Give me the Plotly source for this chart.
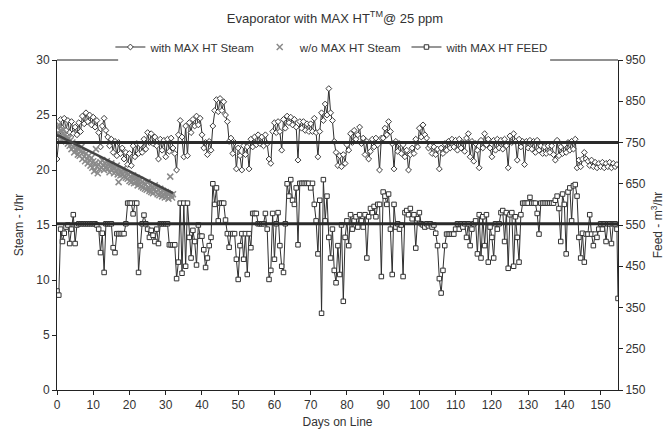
import numpy as np
import plotly.graph_objects as go

# ---------------- data ----------------
steam_days = list(np.arange(0, 155, 0.5))
steam_with = [
    21.0, 23.2, 24.6, 23.8, 24.7, 23.6, 24.5, 23.4, 24.4, 23.3, 23.9, 23.2, 24.3, 23.5, 24.9, 24.2, 25.2, 24.4, 25.0, 24.1,
    24.8, 23.9, 24.5, 23.4, 22.1, 24.0, 24.7, 23.6, 23.0, 22.2, 22.8, 21.6, 22.6, 21.3, 22.5, 21.5, 22.0, 21.0, 21.6, 20.5,
    21.5, 20.4, 22.2, 21.2, 22.4, 21.5, 22.3, 21.6, 22.8, 21.9, 23.4, 22.5, 23.3, 22.4, 23.0, 22.2, 21.0, 22.8, 21.8, 22.7,
    21.2, 22.8, 21.7, 22.9, 22.0, 21.5, 20.0, 23.2, 24.5, 23.0, 21.2, 24.0, 21.3, 24.3, 23.4, 24.6, 24.0, 24.9, 24.1, 24.7,
    23.2, 22.0, 22.5, 21.4, 22.6, 21.8, 24.0, 25.4, 26.4, 25.3, 26.5, 25.4, 26.2, 25.0, 24.4, 22.6, 22.9, 21.5, 22.5, 20.1,
    22.0, 21.3, 20.0, 22.2, 21.4, 22.1, 20.1, 22.8, 22.1, 23.0, 22.3, 23.2, 22.4, 23.0, 22.2, 23.2, 22.4, 21.0, 20.6, 23.5,
    24.3, 23.4, 24.4, 23.5, 21.8, 24.6, 23.8, 24.9, 24.3, 24.8, 24.1, 24.6, 23.9, 20.9, 24.4, 23.8, 24.4, 23.6, 24.2, 23.5,
    24.2, 23.5, 24.7, 23.4, 21.2, 23.5, 25.2, 24.5, 26.0, 25.0, 27.4, 25.2, 24.5, 22.6, 21.6, 20.4, 21.3, 20.3, 21.4, 20.6,
    22.3, 21.8, 23.3, 22.5, 23.6, 22.8, 23.2, 23.9, 22.4, 22.9, 21.4, 22.6, 21.0, 21.7, 22.8, 22.1, 22.9, 22.3, 20.0, 22.9,
    22.9, 23.8, 23.2, 24.4, 23.5, 22.4, 20.1, 22.6, 21.7, 22.4, 21.5, 22.3, 21.2, 21.8, 20.0, 21.4, 22.0, 21.5, 22.8, 22.1,
    23.8, 23.0, 24.1, 23.2, 22.9, 22.0, 22.2, 21.5, 22.1, 21.4, 21.9, 20.1, 22.0, 21.5, 22.4, 21.8, 22.6, 22.0, 22.8, 22.1,
    22.7, 21.8, 22.8, 22.0, 22.5, 21.7, 22.9, 23.3, 21.2, 22.6, 20.8, 22.4, 21.8, 20.2, 22.7, 22.0, 23.3, 22.3, 22.8, 22.0,
    21.2, 22.7, 21.8, 22.8, 22.0, 22.7, 21.9, 22.8, 22.2, 20.2, 23.1, 22.5, 23.3, 22.6, 20.9, 22.8, 22.1, 22.6, 20.5, 22.6,
    22.0, 22.7, 21.9, 22.6, 21.6, 22.7, 21.8, 22.2, 21.5, 22.1, 21.5, 22.2, 21.6, 22.2, 21.4, 20.9, 22.7, 21.3, 22.1, 21.5,
    22.3, 21.6, 22.5, 21.8, 22.6, 21.9, 22.8, 20.2, 20.9, 20.3, 21.0, 21.6, 21.0, 20.8, 20.4, 20.9, 20.3, 20.7, 20.2, 20.6,
    20.3, 20.7, 20.2, 20.6, 20.3, 20.7, 20.2, 20.6, 20.3, 20.5,
]

wo_days = list(np.arange(0, 32.01, 0.25))
steam_without = [
    23.9, 23.4, 24.1, 23.0, 23.6, 22.8, 23.3, 23.7, 22.9, 23.2, 22.6, 23.0,
    22.4, 22.9, 22.2, 22.7, 21.9, 22.5, 22.1, 21.6, 22.3, 21.8, 22.0, 21.4,
    21.9, 21.3, 21.7, 22.1, 21.0, 21.6, 21.2, 20.8, 21.5, 21.0, 20.6, 21.3,
    20.9, 20.4, 21.1, 20.2, 20.8, 19.9, 20.6, 21.9, 20.3, 19.7, 20.5, 20.1,
    20.7, 20.2, 20.9, 20.4, 20.0, 20.6, 20.3, 20.8, 20.1, 20.5, 19.8, 20.4,
    20.6, 20.0, 20.3, 19.7, 20.2, 19.9, 20.4, 19.6, 18.9, 20.0, 19.5, 19.8,
    19.6, 20.1, 19.4, 19.8, 19.3, 19.7, 19.2, 19.6, 19.0, 19.4, 18.9, 19.3,
    19.5, 18.8, 19.2, 18.9, 19.3, 18.6, 19.0, 18.7, 19.1, 18.5, 18.9, 18.4,
    18.8, 18.3, 18.7, 18.2, 18.9, 18.4, 18.1, 18.6, 18.0, 18.5, 17.9, 18.3,
    18.6, 18.0, 18.4, 17.8, 18.2, 17.7, 18.3, 17.9, 17.6, 18.1, 17.8, 17.5,
    18.0, 17.6, 17.9, 17.4, 17.8, 19.4, 17.7, 17.5, 17.8,
]

feed_days = list(np.arange(0, 155, 0.5)) + [154.8]
feed_with = [
    390, 380, 540, 510, 530, 545, 550, 505, 540, 575, 505, 550, 553, 553, 553, 553, 553, 553, 553, 553,
    553, 553, 550, 540, 483, 530, 435, 553, 553, 553, 553, 495, 483, 529, 529, 529, 529, 529, 553, 603,
    603, 603, 577, 603, 603, 435, 500, 553, 574, 553, 540, 520, 537, 525, 510, 540, 505, 553, 553, 553,
    553, 553, 502, 502, 502, 502, 420, 460, 603, 433, 603, 450, 603, 520, 470, 537, 510, 453, 550, 523,
    523, 490, 447, 470, 500, 520, 650, 600, 640, 560, 603, 603, 603, 562, 529, 496, 529, 529, 529, 467,
    418, 500, 529, 467, 529, 430, 529, 495, 578, 578, 578, 553, 553, 553, 553, 578, 540, 418, 440, 578,
    467, 553, 580, 500, 450, 435, 553, 650, 620, 660, 610, 600, 640, 502, 651, 651, 651, 651, 651, 651,
    640, 651, 600, 560, 480, 610, 336, 660, 560, 620, 520, 470, 540, 440, 410, 500, 430, 550, 365, 520,
    560, 500, 575, 540, 560, 570, 545, 575, 560, 545, 575, 470, 570, 590, 580, 595, 570, 600, 600, 425,
    630, 620, 600, 625, 540, 430, 600, 545, 553, 540, 550, 425, 580, 585, 575, 590, 565, 575, 494, 565,
    580, 553, 550, 545, 553, 548, 553, 545, 550, 530, 500, 420, 385, 440, 500, 528, 528, 528, 528, 528,
    540, 553, 540, 553, 545, 553, 520, 553, 500, 540, 553, 560, 480, 575, 470, 570, 500, 575, 460, 545,
    520, 470, 553, 540, 553, 580, 585, 510, 580, 445, 575, 580, 450, 570, 520, 460, 575, 603, 603, 603,
    603, 617, 603, 603, 603, 578, 528, 603, 603, 603, 603, 603, 603, 603, 603, 610, 620, 590, 510, 625,
    600, 480, 630, 640, 560, 645, 648, 620, 520, 470, 530, 460, 528, 528, 575, 528, 500, 528, 520, 540,
    553, 540, 553, 510, 553, 553, 505, 553, 553, 540,
    372,
]

# reference lines
avg_days = [0, 154.8]
steam_avg = [22.5, 22.5]
feed_avg = [553, 553]
trend_days = [0, 32]
trend_vals = [23.2, 17.9]

x_ticks = list(range(0, 151, 10))
left_ticks = [0, 5, 10, 15, 20, 25, 30]
right_ticks = [150, 250, 350, 450, 550, 650, 750, 850, 950]

FONT = "Arial, Liberation Sans, sans-serif"
DARK = "#333333"

fig = go.Figure()
fig.add_trace(go.Scatter(
    x=steam_days, y=steam_with, name="with MAX HT Steam", mode="lines+markers",
    line=dict(color="#2f2f2f", width=1),
    marker=dict(symbol="diamond", size=4.5, color="white", line=dict(color="#3c3c3c", width=1)),
))
fig.add_trace(go.Scatter(
    x=wo_days, y=steam_without, name="w/o MAX HT Steam", mode="markers",
    marker=dict(symbol="x-thin-open", size=6, color="#8a8a8a", line=dict(color="#8a8a8a", width=1.5)),
))
fig.add_trace(go.Scatter(
    x=feed_days, y=feed_with, name="with MAX HT FEED", mode="lines+markers", yaxis="y2",
    line=dict(color="#2f2f2f", width=1),
    marker=dict(symbol="square", size=4.5, color="white", line=dict(color="#333333", width=1)),
))
fig.add_trace(go.Scatter(x=avg_days, y=steam_avg, mode="lines", showlegend=False,
                         line=dict(color="#2a2a2a", width=3), hoverinfo="skip"))
fig.add_trace(go.Scatter(x=avg_days, y=feed_avg, mode="lines", showlegend=False, yaxis="y2",
                         line=dict(color="#2a2a2a", width=3), hoverinfo="skip"))
fig.add_trace(go.Scatter(x=trend_days, y=trend_vals, mode="lines", showlegend=False,
                         line=dict(color="#444444", width=2.5), hoverinfo="skip"))

axis_common = dict(showgrid=False, zeroline=False, showline=True, linecolor="#222", linewidth=1,
                   ticks="outside", ticklen=4, tickcolor="#222", automargin=False,
                   tickfont=dict(family=FONT, size=12, color=DARK))

fig.update_layout(
    width=670, height=432,
    margin=dict(l=57, r=52, t=60, b=42),
    paper_bgcolor="white", plot_bgcolor="white",
    font=dict(family=FONT, size=12, color=DARK),
    title=dict(text="Evaporator with MAX HT<sup>TM</sup>@ 25 ppm", x=0.5, xanchor="center",
               y=1 - 18 / 432, yanchor="middle", yref="container",
               font=dict(family=FONT, size=13, color=DARK)),
    xaxis=dict(range=[0, 154.8], tickvals=x_ticks,
               title=dict(text="Days on Line", font=dict(family=FONT, size=12, color=DARK), standoff=6),
               **axis_common),
    yaxis=dict(range=[0, 30], tickvals=left_ticks,
               title=dict(text="Steam - t/hr", font=dict(family=FONT, size=12, color=DARK), standoff=10),
               **axis_common),
    yaxis2=dict(range=[150, 950], tickvals=right_ticks, overlaying="y", side="right",
                title=dict(text="Feed - m<sup>3</sup>/hr", font=dict(family=FONT, size=12, color=DARK), standoff=8),
                **axis_common),
    legend=dict(orientation="h", x=0.49, xanchor="center", y=1 + 13 / 330, yanchor="middle",
                font=dict(family=FONT, size=11.5, color=DARK), bgcolor="rgba(0,0,0,0)",
                itemwidth=30, tracegroupgap=0),
    showlegend=True,
    shapes=[
        dict(type="line", xref="paper", yref="paper", x0=0, x1=0.109, y0=1, y1=1,
             line=dict(color="#222", width=1)),
        dict(type="line", xref="paper", yref="paper", x0=0.879, x1=1, y0=1, y1=1,
             line=dict(color="#222", width=1)),
    ],
)

fig.write_html("out.html", config={"displayModeBar": False},
               post_script="document.body.style.margin='0';")
